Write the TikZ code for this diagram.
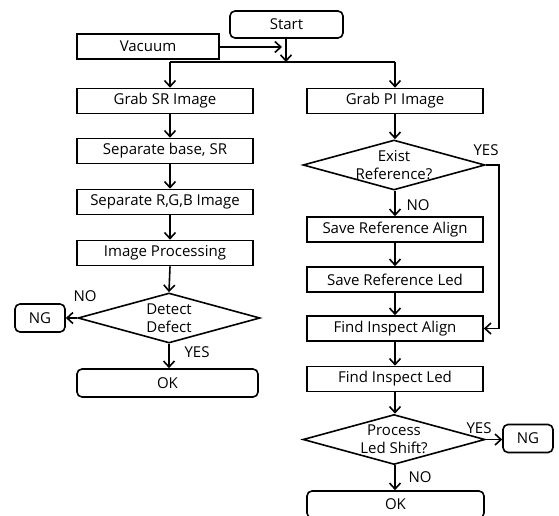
\documentclass[tikz,border=0pt]{standalone}
\usepackage{fontspec}
\setmainfont{Open Sans}
\usetikzlibrary{shapes.geometric,arrows.meta}
\begin{document}
\begin{tikzpicture}[x=1pt,y=-1pt,
 every node/.style={font=\fontsize{15}{18}\selectfont},
 box/.style={draw,line width=1.6pt,minimum width=176pt,minimum height=25pt,inner sep=0pt},
 rbox/.style={box,rounded corners=5pt},
 dia/.style={draw,line width=1.6pt,diamond,minimum width=182pt,minimum height=50pt,inner sep=0pt,aspect=1},
 lbl/.style={inner sep=0pt},
 arr/.style={line width=1.6pt,-{Straight Barb[length=6pt,width=11pt]}},
 ln/.style={line width=1.6pt}]
\useasboundingbox (0,0) rectangle (559,516);
% top
\node[rbox,minimum width=113pt,minimum height=27pt] (start) at (286.5,24.5) {Start};
\node[box,minimum width=142pt] (vac) at (148,46.5) {Vacuum};
\coordinate (vend) at (282,47);
\coordinate (split) at (286,62);
\coordinate (cl) at (170,62);
\coordinate (cr) at (395,62);
% left column
\node[box] (gsr) at (165,101) {Grab SR Image};
\node[box] (sep) at (165,151) {Separate base, SR};
\node[box] (rgb) at (165,202) {Separate R,G,B Image};
\node[box] (ip) at (165,253) {Image Processing};
\node[dia,label={[align=center,lbl]center:Detect\\Defect}] (d1) at (169,318) {};
\node[rbox,minimum width=50pt,minimum height=28pt] (ng1) at (40,318) {NG};
\node[rbox,minimum width=181pt,minimum height=28pt] (ok1) at (167.5,383) {OK};
% right column
\node[box] (gpi) at (395,101) {Grab PI Image};
\node[dia,label={[align=center,lbl]center:Exist\\Reference?}] (d2) at (394,165) {};
\node[box] (sra) at (395,229.5) {Save Reference Align};
\node[box] (srl) at (395,279.5) {Save Reference Led};
\node[box] (fia) at (395,328.5) {Find Inspect Align};
\node[box] (fil) at (395,379) {Find Inspect Led};
\node[dia,label={[align=center,lbl]center:Process\\Led Shift?}] (d3) at (394,439.5) {};
\node[rbox,minimum width=50pt,minimum height=28pt] (ng2) at (528,438.5) {NG};
\node[rbox,minimum width=177pt,minimum height=27pt] (ok2) at (395.5,504.5) {OK};
\coordinate (yr) at (499,165);
% connectors
\draw[arr] (vac.east |- vend) -- (vend);
\draw[arr] (start.south -| split) -- (split);
\draw[ln] (cl) -- (cr);
\draw[arr] (cl) -- (gsr.north -| cl);
\draw[arr] (cr) -- (gpi.north -| cr);
\draw[arr] (gsr.south -| cl) -- (sep.north -| cl);
\draw[arr] (sep.south -| cl) -- (rgb.north -| cl);
\draw[arr] (rgb.south -| cl) -- (ip.north -| cl);
\draw[arr] (ip.south -| cl) -- (d1.north);
\draw[arr] (d1.west) -- (ng1.east);
\draw[arr] (d1.south) -- (ok1.north -| d1.south);
\draw[arr] (gpi.south -| cr) -- (d2.north -| cr);
\draw[arr] (d2.south -| cr) -- (sra.north -| cr);
\draw[arr] (sra.south -| cr) -- (srl.north -| cr);
\draw[arr] (srl.south -| cr) -- (fia.north -| cr);
\draw[arr] (fia.south -| cr) -- (fil.north -| cr);
\draw[arr] (fil.south -| cr) -- (d3.north -| cr);
\draw[arr] (d3.south -| cr) -- (ok2.north -| cr);
\draw[arr] (d2.east) -- (yr) -- (yr |- fia.east) -- (fia.east);
\draw[arr] (d3.east) -- (d3.east -| ng2.west);
% labels
\node[lbl] at (85,296) {NO};
\node[lbl] at (197,352) {YES};
\node[lbl] at (486,150) {YES};
\node[lbl] at (418,205) {NO};
\node[lbl] at (479,428) {YES};
\node[lbl] at (420,477) {NO};
\end{tikzpicture}
\end{document}
